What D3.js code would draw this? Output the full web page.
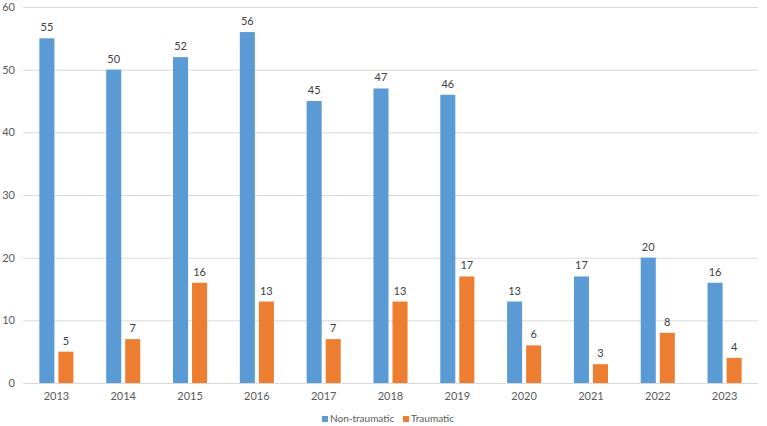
<!DOCTYPE html>
<html>
<head>
<meta charset="utf-8">
<script src="https://cdn.jsdelivr.net/npm/d3@7"></script>
<style>
  body { margin: 0; background: #fff; }
  text { font-family: Lato, "Open Sans", sans-serif; }
</style>
</head>
<body>
<svg id="chart"></svg>
<script>
// Données du graphique
const years = ["2013", "2014", "2015", "2016", "2017", "2018", "2019", "2020", "2021", "2022", "2023"];
const nonTraumatic = [55, 50, 52, 56, 45, 47, 46, 13, 17, 20, 16];
const traumatic = [5, 7, 16, 13, 7, 13, 17, 6, 3, 8, 4];
const yTicks = [0, 10, 20, 30, 40, 50, 60];
const seriesNames = ["Non-traumatic", "Traumatic"];
const colors = ["#5B9BD5", "#ED7D31"];

const width = 767;
const height = 426;
const margin = { top: 7, right: 9, bottom: 43, left: 23 };

const svg = d3.select("#chart")
    .attr("width", width)
    .attr("height", height);

const x = d3.scaleBand()
    .domain(years)
    .range([margin.left, width - margin.right]);

const x1 = d3.scaleBand()
    .domain(seriesNames)
    .range([0, x.bandwidth()])
    .paddingInner(0.21)
    .paddingOuter(0.86);

const y = d3.scaleLinear()
    .domain([0, 60])
    .range([height - margin.bottom, margin.top]);

// Lignes de grille
svg.append("g")
    .selectAll("line")
    .data(yTicks)
    .enter().append("line")
    .attr("x1", margin.left)
    .attr("x2", width - margin.right)
    .attr("y1", d => y(d) + 0.5)
    .attr("y2", d => y(d) + 0.5)
    .attr("stroke", "#d9d9d9")
    .attr("stroke-width", 1);

// Étiquettes de l'axe Y
svg.append("g")
    .selectAll("text")
    .data(yTicks)
    .enter().append("text")
    .attr("x", 15)
    .attr("y", d => y(d) + 4)
    .attr("text-anchor", "end")
    .attr("font-size", "11px")
    .attr("fill", "#595959")
    .text(d => d);

// Barres
const data = years.map((yr, i) => ({ year: yr, values: [nonTraumatic[i], traumatic[i]] }));

const groups = svg.append("g")
    .selectAll("g")
    .data(data)
    .enter().append("g")
    .attr("transform", d => `translate(${x(d.year)},0)`);

groups.selectAll("rect")
    .data(d => d.values.map((v, j) => ({ name: seriesNames[j], value: v, color: colors[j] })))
    .enter().append("rect")
    .attr("x", d => x1(d.name))
    .attr("y", d => y(d.value))
    .attr("width", x1.bandwidth())
    .attr("height", d => y(0) - y(d.value))
    .attr("fill", d => d.color);

groups.selectAll("text")
    .data(d => d.values.map((v, j) => ({ name: seriesNames[j], value: v })))
    .enter().append("text")
    .attr("x", d => x1(d.name) + x1.bandwidth() / 2)
    .attr("y", d => y(d.value) - 7)
    .attr("text-anchor", "middle")
    .attr("font-size", "11px")
    .attr("fill", "#404040")
    .text(d => d.value);

// Étiquettes de l'axe X
svg.append("g")
    .selectAll("text")
    .data(years)
    .enter().append("text")
    .attr("x", d => x(d) + x.bandwidth() / 2)
    .attr("y", height - margin.bottom + 17)
    .attr("text-anchor", "middle")
    .attr("font-size", "11px")
    .attr("fill", "#595959")
    .text(d => d);

// Légende
const legendX = [322, 403];
const legend = svg.append("g")
    .selectAll("g")
    .data(seriesNames)
    .enter().append("g")
    .attr("transform", (d, i) => `translate(${legendX[i]},${height - 4})`);

legend.append("rect")
    .attr("x", 0)
    .attr("y", -6)
    .attr("width", 6)
    .attr("height", 6)
    .attr("fill", (d, i) => colors[i]);

legend.append("text")
    .attr("x", 8)
    .attr("y", 0)
    .attr("font-size", "10px")
    .attr("fill", "#595959")
    .text(d => d);
</script>
</body>
</html>
